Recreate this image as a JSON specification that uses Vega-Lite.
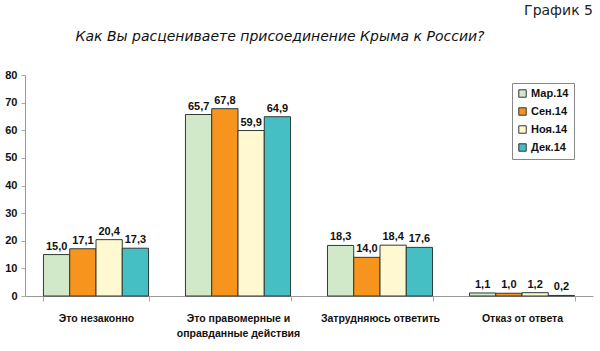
{
  "$schema": "https://vega.github.io/schema/vega-lite/v6.json",
  "width": 568,
  "height": 221,
  "autosize": "none",
  "padding": {"left": 25, "top": 75, "right": 7, "bottom": 55},
  "background": "white",
  "config": {
    "locale": {"number": {"decimal": ",", "thousands": " ", "grouping": [3], "currency": ["", ""]}},
    "view": {"stroke": null},
    "font": "Liberation Sans",
    "axisY": {
      "grid": false,
      "tickCount": 8,
      "labelFont": "Liberation Sans",
      "labelFontWeight": "bold",
      "labelFontSize": 11,
      "labelColor": "#111",
      "tickSize": 4,
      "tickColor": "#aaa",
      "domainColor": "#999",
      "labelPadding": 4
    },
    "axisX": {
      "labelAngle": 0,
      "labelFont": "Liberation Sans",
      "labelFontWeight": "bold",
      "labelFontSize": 10.5,
      "labelColor": "#111",
      "labelPadding": 12,
      "labelLineHeight": 15,
      "tickBand": "extent",
      "tickSize": 5,
      "tickColor": "#aaa",
      "domainColor": "#999"
    }
  },
  "title": {
    "text": "График 5",
    "anchor": "end",
    "frame": "group",
    "offset": 12,
    "font": "DejaVu Sans",
    "fontSize": 14,
    "fontWeight": "normal",
    "color": "#222"
  },
  "layer": [
    {
      "data": {"name": "main", "values": [
        {"cat": "Это незаконно", "period": "Мар.14", "v": 15.0},
        {"cat": "Это незаконно", "period": "Сен.14", "v": 17.1},
        {"cat": "Это незаконно", "period": "Ноя.14", "v": 20.4},
        {"cat": "Это незаконно", "period": "Дек.14", "v": 17.3},
        {"cat": "Это правомерные и оправданные действия", "period": "Мар.14", "v": 65.7},
        {"cat": "Это правомерные и оправданные действия", "period": "Сен.14", "v": 67.8},
        {"cat": "Это правомерные и оправданные действия", "period": "Ноя.14", "v": 59.9},
        {"cat": "Это правомерные и оправданные действия", "period": "Дек.14", "v": 64.9},
        {"cat": "Затрудняюсь ответить", "period": "Мар.14", "v": 18.3},
        {"cat": "Затрудняюсь ответить", "period": "Сен.14", "v": 14.0},
        {"cat": "Затрудняюсь ответить", "period": "Ноя.14", "v": 18.4},
        {"cat": "Затрудняюсь ответить", "period": "Дек.14", "v": 17.6},
        {"cat": "Отказ от ответа", "period": "Мар.14", "v": 1.1},
        {"cat": "Отказ от ответа", "period": "Сен.14", "v": 1.0},
        {"cat": "Отказ от ответа", "period": "Ноя.14", "v": 1.2},
        {"cat": "Отказ от ответа", "period": "Дек.14", "v": 0.2}
      ]},
      "encoding": {
        "x": {
          "field": "cat",
          "type": "nominal",
          "sort": null,
          "scale": {"paddingInner": 0.26, "paddingOuter": 0.13},
          "axis": {
            "title": null,
            "labelExpr": "datum.value == 'Это правомерные и оправданные действия' ? ['Это правомерные и', 'оправданные действия'] : datum.value"
          }
        },
        "xOffset": {"field": "period", "type": "nominal", "sort": ["Мар.14", "Сен.14", "Ноя.14", "Дек.14"], "scale": {"paddingInner": 0, "paddingOuter": 0}},
        "y": {
          "field": "v",
          "type": "quantitative",
          "scale": {"domain": [0, 80]},
          "axis": {"title": null}
        }
      },
      "layer": [
        {
          "mark": {"type": "bar", "stroke": "#2d3b35", "strokeWidth": 1},
          "encoding": {
            "color": {
              "field": "period",
              "type": "nominal",
              "sort": ["Мар.14", "Сен.14", "Ноя.14", "Дек.14"],
              "scale": {"domain": ["Мар.14", "Сен.14", "Ноя.14", "Дек.14"], "range": ["#d2e9c9", "#f7941d", "#fff8d0", "#45bec4"]},
              "legend": {
                "title": null,
                "orient": "none",
                "legendX": 487,
                "legendY": 8,
                "strokeColor": "#888",
                "fillColor": "white",
                "padding": 5,
                "symbolType": "square",
                "symbolSize": 55,
                "symbolStrokeColor": "#333",
                "symbolStrokeWidth": 1,
                "labelFont": "Liberation Sans",
                "labelFontWeight": "bold",
                "labelFontSize": 11,
                "labelColor": "#111",
                "rowPadding": 5,
                "labelOffset": 3
              }
            }
          }
        },
        {
          "mark": {"type": "text", "baseline": "bottom", "dy": -3, "font": "Liberation Sans", "fontWeight": "bold", "fontSize": 11, "color": "#111"},
          "encoding": {
            "text": {"field": "v", "type": "quantitative", "format": ".1f"}
          }
        }
      ]
    },
    {
      "data": {"values": [{"note": "Как Вы расцениваете присоединение Крыма к России?"}]},
      "mark": {"type": "text", "align": "center", "baseline": "middle", "font": "DejaVu Sans", "fontSize": 14, "fontStyle": "italic", "color": "#111", "dx": -29, "dy": -38},
      "encoding": {
        "x": {"value": {"expr": "width / 2"}},
        "y": {"datum": 80, "type": "quantitative", "axis": {"title": null}},
        "text": {"field": "note", "type": "nominal"}
      }
    }
  ]
}
